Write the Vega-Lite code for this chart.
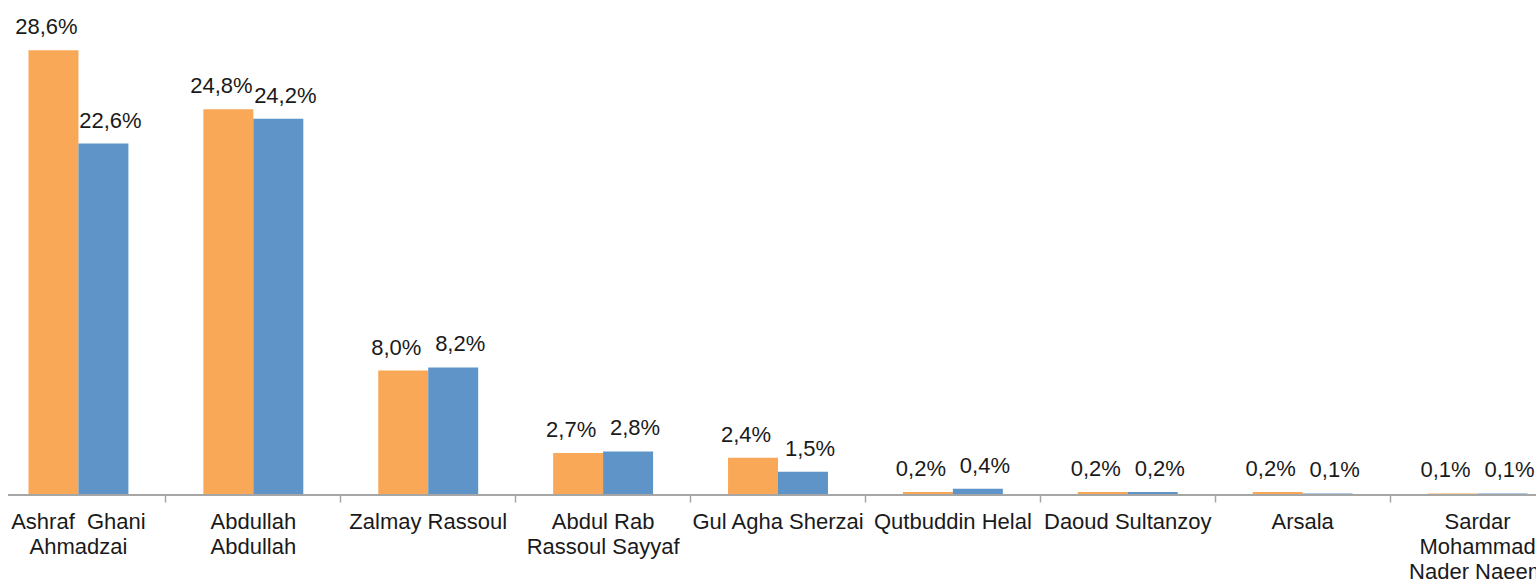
{
  "$schema": "https://vega.github.io/schema/vega-lite/v6.json",
  "autosize": {"type": "none"},
  "width": 1528,
  "height": 495,
  "padding": {"left": 8, "top": 0, "right": 0, "bottom": 87},
  "background": "white",
  "config": {
    "locale": {"number": {"decimal": ",", "thousands": ".", "grouping": [3], "currency": ["", "€"]}},
    "view": {"stroke": null},
    "font": "Liberation Sans"
  },
  "data": {
    "values": [
      {"c": "Ashraf\u00a0 Ghani\nAhmadzai", "s": "a", "v": 0.286},
      {"c": "Ashraf\u00a0 Ghani\nAhmadzai", "s": "b", "v": 0.226},
      {"c": "Abdullah\nAbdullah", "s": "a", "v": 0.248},
      {"c": "Abdullah\nAbdullah", "s": "b", "v": 0.242},
      {"c": "Zalmay Rassoul", "s": "a", "v": 0.080},
      {"c": "Zalmay Rassoul", "s": "b", "v": 0.082},
      {"c": "Abdul Rab\nRassoul Sayyaf", "s": "a", "v": 0.027},
      {"c": "Abdul Rab\nRassoul Sayyaf", "s": "b", "v": 0.028},
      {"c": "Gul Agha Sherzai", "s": "a", "v": 0.024},
      {"c": "Gul Agha Sherzai", "s": "b", "v": 0.015},
      {"c": "Qutbuddin Helal", "s": "a", "v": 0.002},
      {"c": "Qutbuddin Helal", "s": "b", "v": 0.004},
      {"c": "Daoud Sultanzoy", "s": "a", "v": 0.002},
      {"c": "Daoud Sultanzoy", "s": "b", "v": 0.002},
      {"c": "Arsala", "s": "a", "v": 0.002},
      {"c": "Arsala", "s": "b", "v": 0.001},
      {"c": "Sardar\nMohammad\nNader Naeem", "s": "a", "v": 0.001},
      {"c": "Sardar\nMohammad\nNader Naeem", "s": "b", "v": 0.001}
    ]
  },
  "encoding": {
    "x": {
      "field": "c", "type": "nominal", "sort": null, "title": null,
      "scale": {"range": [-17, 1557], "paddingInner": 0, "paddingOuter": 0},
      "axis": {
        "domain": false,
        "ticks": true, "tickColor": "#a6a6a6", "tickSize": 7, "tickWidth": 1.5, "bandPosition": 0,
        "labelAngle": 0, "labelFontSize": 22, "labelColor": "#1a1a1a", "labelFont": "Liberation Sans",
        "labelPadding": 9, "labelLineHeight": 25, "labelBaseline": "top",
        "labelExpr": "split(datum.label, '\\n')", "labelOverlap": false, "labelBound": false, "labelFlush": false, "labelLimit": 400
      }
    },
    "y": {
      "field": "v", "type": "quantitative", "title": null,
      "scale": {"domain": [0, 0.3183], "nice": false},
      "axis": null
    },
    "xOffset": {"field": "s", "type": "nominal", "scale": {"paddingOuter": 0.75, "paddingInner": 0}}
  },
  "layer": [
    {
      "mark": {"type": "bar"},
      "encoding": {
        "color": {"field": "s", "type": "nominal", "legend": null,
          "scale": {"domain": ["a", "b"], "range": ["#F9A857", "#5E94C8"]}}
      }
    },
    {
      "transform": [{"filter": "datum.s === 'a'"}],
      "mark": {"type": "text", "baseline": "alphabetic", "dy": -16, "dx": -7, "fontSize": 22, "color": "#1a1a1a", "font": "Liberation Sans"},
      "encoding": {
        "text": {"field": "v", "type": "quantitative", "format": ".1%"}
      }
    },
    {
      "transform": [{"filter": "datum.s === 'b'"}],
      "mark": {"type": "text", "baseline": "alphabetic", "dy": -16, "dx": 7, "fontSize": 22, "color": "#1a1a1a", "font": "Liberation Sans"},
      "encoding": {
        "text": {"field": "v", "type": "quantitative", "format": ".1%"}
      }
    },
    {
      "mark": {"type": "rule", "color": "#a6a6a6", "strokeWidth": 1.5},
      "encoding": {"y": {"datum": 0}, "x": null, "xOffset": null}
    }
  ]
}
